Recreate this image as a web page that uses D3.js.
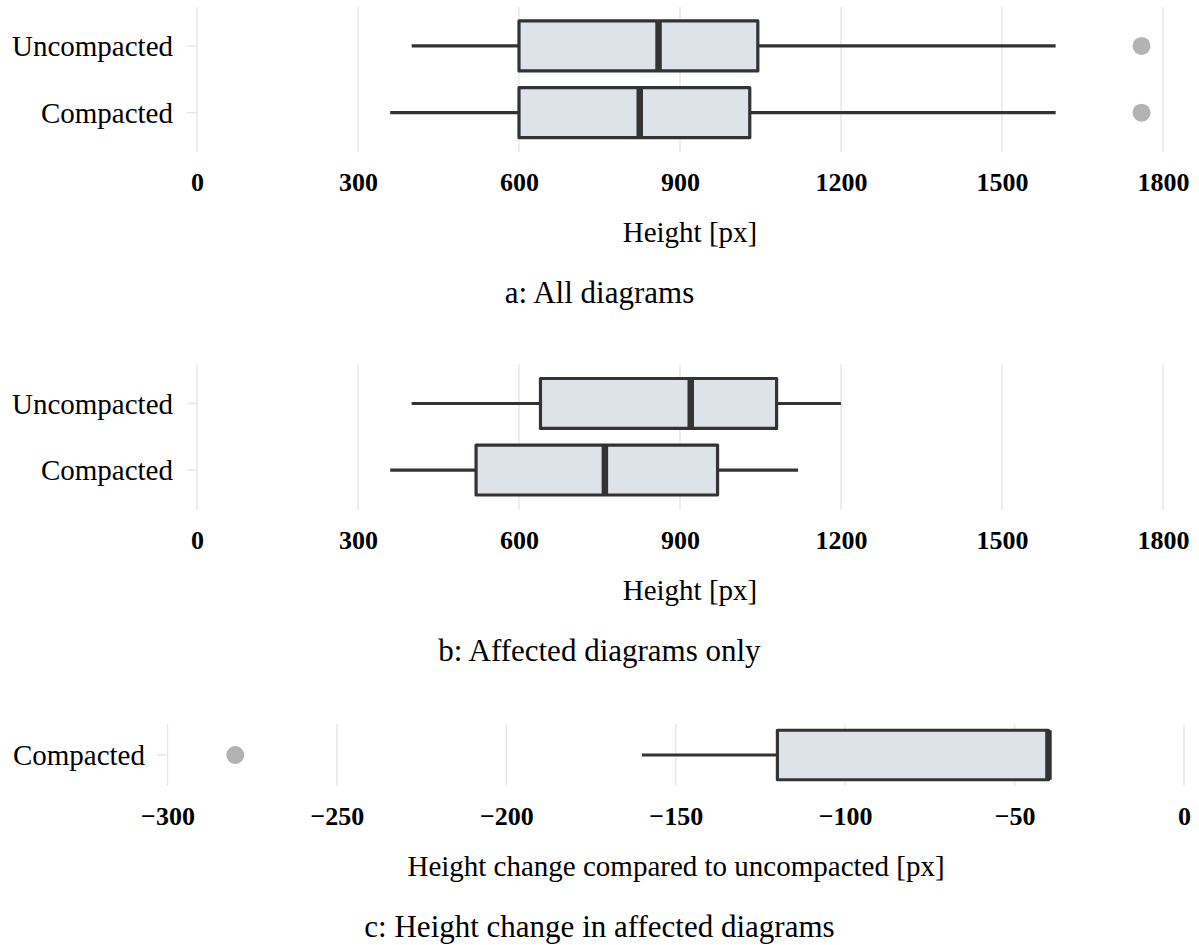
<!DOCTYPE html>
<html>
<head>
<meta charset="utf-8">
<script src="https://cdn.jsdelivr.net/npm/d3@7"></script>
<style>
body { margin: 0; background: #fff; }
svg text { font-family: "Liberation Serif", serif; fill: #000; }
</style>
</head>
<body>
<div id="chart-area"></div>
<script>

// categories
var groups = ["Uncompacted", "Compacted"];
var changeGroups = ["Compacted"];

// a: all diagrams (five number summary + outliers, per group)
var allMin = [400, 360];
var allQ1 = [600, 600];
var allMedian = [860, 825];
var allQ3 = [1045, 1030];
var allMax = [1600, 1600];
var allOutliers = [[1760], [1760]];

// b: affected diagrams only
var affMin = [400, 360];
var affQ1 = [640, 520];
var affMedian = [920, 760];
var affQ3 = [1080, 970];
var affMax = [1200, 1120];
var affOutliers = [[], []];

// c: height change
var chgMin = [-160];
var chgQ1 = [-120];
var chgMedian = [-40];
var chgQ3 = [-40];
var chgMax = [-40];
var chgOutliers = [[-280]];

// tick labels
var heightTicks = [0, 300, 600, 900, 1200, 1500, 1800];
var changeTicks = [-300, -250, -200, -150, -100, -50, 0];

var width = 1199, height = 945;

var svg = d3.select("#chart-area").append("svg")
    .attr("width", width)
    .attr("height", height);

// build the rows that the box plots are drawn from
function makeRows(cats, mins, q1s, meds, q3s, maxs, outs) {
    return cats.map(function(c, i) {
        return {cat: c, min: mins[i], q1: q1s[i], median: meds[i], q3: q3s[i], max: maxs[i], outliers: outs[i]};
    });
}

function drawPanel(p) {
    var g = svg.append("g");

    var x = d3.scaleLinear().domain(p.domain).range(p.xRange);
    var y = d3.scaleBand().domain(p.rows.map(function(d) { return d.cat; }))
        .range(p.yRange)
        .paddingInner(0.25)
        .paddingOuter(0.125);
    var bw = y.bandwidth();

    // vertical gridlines
    g.selectAll(".grid").data(p.ticks).enter().append("line")
        .attr("class", "grid")
        .attr("x1", function(d) { return x(d); })
        .attr("x2", function(d) { return x(d); })
        .attr("y1", p.gridTop)
        .attr("y2", p.gridBottom)
        .attr("stroke", "#e8e8e8")
        .attr("stroke-width", 1.5);

    // y tick marks + category labels
    g.selectAll(".ytick").data(p.rows).enter().append("line")
        .attr("class", "ytick")
        .attr("x1", p.xRange[0] - 10)
        .attr("x2", p.xRange[0])
        .attr("y1", function(d) { return y(d.cat) + bw / 2; })
        .attr("y2", function(d) { return y(d.cat) + bw / 2; })
        .attr("stroke", "#e8e8e8")
        .attr("stroke-width", 1.5);

    g.selectAll(".ylab").data(p.rows).enter().append("text")
        .attr("class", "ylab")
        .attr("x", p.labelX)
        .attr("y", function(d) { return y(d.cat) + bw / 2; })
        .attr("dy", "0.35em")
        .attr("text-anchor", "end")
        .style("font-size", "29px")
        .text(function(d) { return d.cat; });

    // whiskers
    var box = g.selectAll(".box").data(p.rows).enter().append("g").attr("class", "box");
    box.append("line")
        .attr("x1", function(d) { return x(d.min); })
        .attr("x2", function(d) { return x(d.max); })
        .attr("y1", function(d) { return y(d.cat) + bw / 2; })
        .attr("y2", function(d) { return y(d.cat) + bw / 2; })
        .attr("stroke", "#333")
        .attr("stroke-width", 3.2);

    box.append("rect")
        .attr("x", function(d) { return x(d.q1); })
        .attr("y", function(d) { return y(d.cat); })
        .attr("width", function(d) { return x(d.q3) - x(d.q1); })
        .attr("height", bw)
        .attr("fill", "#dee2e9")
        .attr("stroke", "#333")
        .attr("stroke-width", 3.2)
        .attr("stroke-linejoin", "round");

    box.append("line")
        .attr("x1", function(d) { return x(d.median); })
        .attr("x2", function(d) { return x(d.median); })
        .attr("y1", function(d) { return y(d.cat); })
        .attr("y2", function(d) { return y(d.cat) + bw; })
        .attr("stroke", "#333")
        .attr("stroke-width", 6.5);

    // outliers
    box.selectAll("circle").data(function(d) {
        return d.outliers.map(function(o) { return {v: o, cat: d.cat}; });
    }).enter().append("circle")
        .attr("cx", function(d) { return x(d.v); })
        .attr("cy", function(d) { return y(d.cat) + bw / 2; })
        .attr("r", 9)
        .attr("fill", "#b3b3b3");

    // x axis (labels only, no thousands separator)
    var xAxis = d3.axisBottom(x).tickValues(p.ticks).tickSize(0).tickFormat(d3.format("d"));
    var ax = g.append("g")
        .attr("transform", "translate(0," + p.gridBottom + ")")
        .call(xAxis);
    ax.select(".domain").remove();
    ax.attr("font-family", null).attr("font-size", null);
    ax.selectAll("text")
        .attr("y", 39)
        .attr("dy", null)
        .style("font-size", "26px")
        .style("font-weight", "bold");

    g.append("text")
        .attr("x", p.titleX)
        .attr("y", p.gridBottom + 90)
        .attr("text-anchor", "middle")
        .style("font-size", "29px")
        .text(p.title);

    g.append("text")
        .attr("x", width / 2)
        .attr("y", p.gridBottom + 151)
        .attr("text-anchor", "middle")
        .style("font-size", "31px")
        .text(p.caption);
}

drawPanel({
    rows: makeRows(groups, allMin, allQ1, allMedian, allQ3, allMax, allOutliers),
    domain: [0, 1800], xRange: [197, 1163], ticks: heightTicks,
    yRange: [12.6, 146], gridTop: 7, gridBottom: 152, labelX: 173, titleX: 690,
    title: "Height [px]", caption: "a: All diagrams"
});

drawPanel({
    rows: makeRows(groups, affMin, affQ1, affMedian, affQ3, affMax, affOutliers),
    domain: [0, 1800], xRange: [197, 1163], ticks: heightTicks,
    yRange: [370.2, 503.3], gridTop: 364, gridBottom: 510, labelX: 173, titleX: 690,
    title: "Height [px]", caption: "b: Affected diagrams only"
});

drawPanel({
    rows: makeRows(changeGroups, chgMin, chgQ1, chgMedian, chgQ3, chgMax, chgOutliers),
    domain: [-300, 0], xRange: [167.5, 1184], ticks: changeTicks,
    yRange: [722, 788], gridTop: 724, gridBottom: 786, labelX: 145, titleX: 676,
    title: "Height change compared to uncompacted [px]", caption: "c: Height change in affected diagrams"
});

</script>
</body>
</html>
